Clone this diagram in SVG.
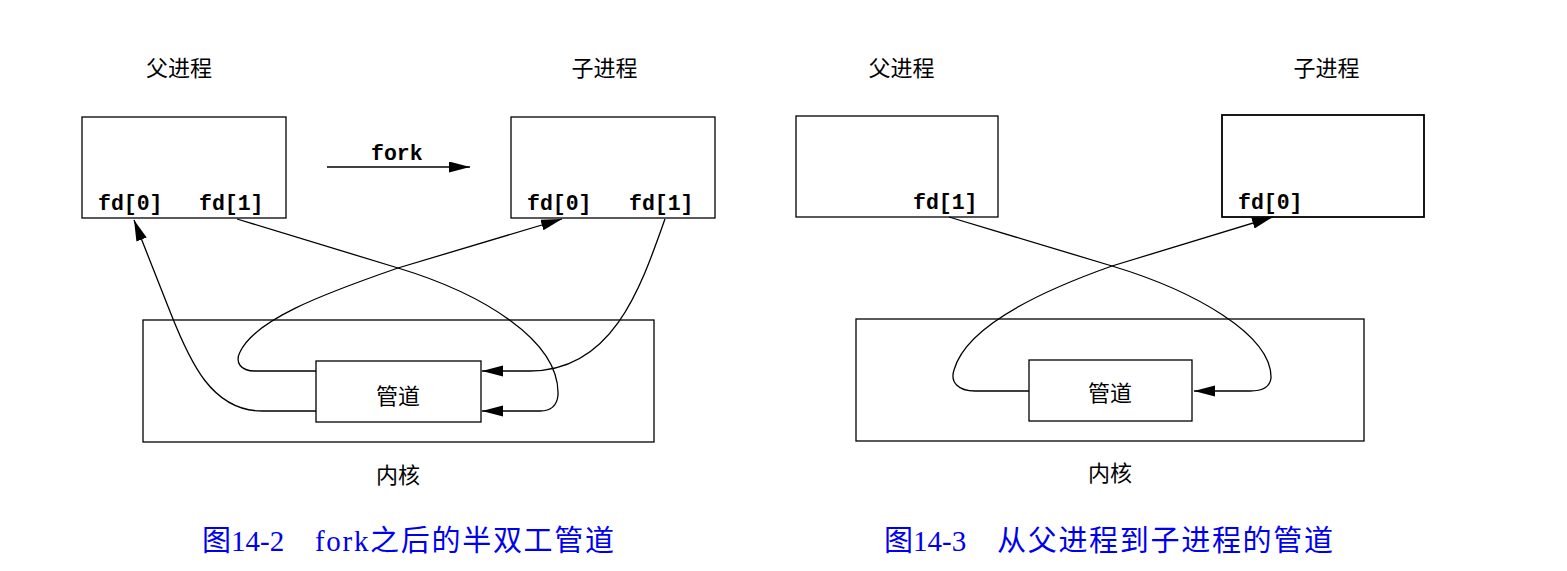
<svg xmlns="http://www.w3.org/2000/svg" width="1567" height="571" viewBox="0 0 1567 571">
<style>
.box{fill:none;stroke:#000;stroke-width:1.3}
.wbox{fill:#fff;stroke:#000;stroke-width:1.3}
.conn{fill:none;stroke:#000;stroke-width:1.3}
.cjk{font-family:"Noto Sans CJK SC",sans-serif;font-size:22px;fill:#000}
.mono{font-family:"Liberation Mono","Courier New",monospace;font-weight:bold;font-size:21.5px;fill:#000}
.cap{font-family:"Liberation Serif","Noto Sans CJK SC",serif;font-size:29px;fill:#0000f0}
.cap tspan{letter-spacing:1.7px}
</style>
<defs>
<marker id="arr" markerUnits="userSpaceOnUse" markerWidth="22" markerHeight="12" refX="21" refY="5.5" orient="auto">
<path d="M0,0 L21,5.5 L0,11 z" fill="#000"/>
</marker>
</defs>
<rect width="1567" height="571" fill="#fff"/>

<!-- Left figure -->
<g id="kernel-left">
<rect class="box" x="143" y="320" width="511" height="122"/>
<text class="cjk" x="398" y="483" text-anchor="middle">内核</text>
</g>
<g id="parent-left">
<text class="cjk" x="179" y="76" text-anchor="middle">父进程</text>
<rect class="box" x="82" y="117" width="204" height="101"/>
<text class="mono" x="98" y="210">fd[0]</text>
<text class="mono" x="199" y="210">fd[1]</text>
</g>
<g id="child-left">
<text class="cjk" x="604.5" y="76" text-anchor="middle">子进程</text>
<rect class="box" x="511" y="117" width="204" height="101"/>
<text class="mono" x="527" y="210">fd[0]</text>
<text class="mono" x="629" y="210">fd[1]</text>
</g>
<g id="pipe-left">
<rect class="wbox" x="316" y="361" width="165" height="61"/>
<text class="cjk" x="398" y="404" text-anchor="middle">管道</text>
</g>

<!-- Right figure -->
<g id="kernel-right">
<rect class="box" x="856" y="319" width="508" height="122"/>
<text class="cjk" x="1110" y="481" text-anchor="middle">内核</text>
</g>
<g id="parent-right">
<text class="cjk" x="901.5" y="76" text-anchor="middle">父进程</text>
<rect class="box" x="796" y="116" width="202" height="101"/>
<text class="mono" x="913" y="209">fd[1]</text>
</g>
<g id="child-right">
<text class="cjk" x="1326.5" y="76" text-anchor="middle">子进程</text>
<rect class="box" x="1222" y="115" width="202" height="102" style="stroke-width:1.8"/>
<text class="mono" x="1238" y="209">fd[0]</text>
</g>
<g id="pipe-right">
<rect class="wbox" x="1029" y="360" width="163" height="61"/>
<text class="cjk" x="1110" y="401" text-anchor="middle">管道</text>
</g>

<g id="connectors">
<!-- fork arrow -->
<line class="conn" x1="327" y1="167" x2="470" y2="167" marker-end="url(#arr)"/>
<text class="mono" x="371" y="160">fork</text>
<!-- left figure -->
<path class="conn" d="M316 411 L262 411 C212 411 190 362 171 314 C158 281 146 251 134 220" marker-end="url(#arr)"/>
<path class="conn" d="M237 219 L398 268 C481 293 560 340 558 395 C557 406 551 411 540 411 L482 411" marker-end="url(#arr)"/>
<path class="conn" d="M665 219 C640 290 612 371 530 371 L482 371" marker-end="url(#arr)"/>
<path class="conn" d="M316 371 L255 371 C240 371 235 362 240 352 C255 320 320 295 398 268 L562 219" marker-end="url(#arr)"/>
<!-- right figure -->
<path class="conn" d="M949 217 L1112 266 C1195 291 1272 335 1271 378 C1270 387 1262 391 1250 391 L1194 391" marker-end="url(#arr)"/>
<path class="conn" d="M1029 391 L975 391 C958 391 950 382 954 370 C965 330 1030 295 1112 266 L1273 217" marker-end="url(#arr)"/>
</g>

<text class="cap" x="202" y="551">图14-2<tspan x="315">fork之后的半双工管道</tspan></text>
<text class="cap" x="884" y="551">图14-3<tspan x="997">从父进程到子进程的管道</tspan></text>
</svg>
